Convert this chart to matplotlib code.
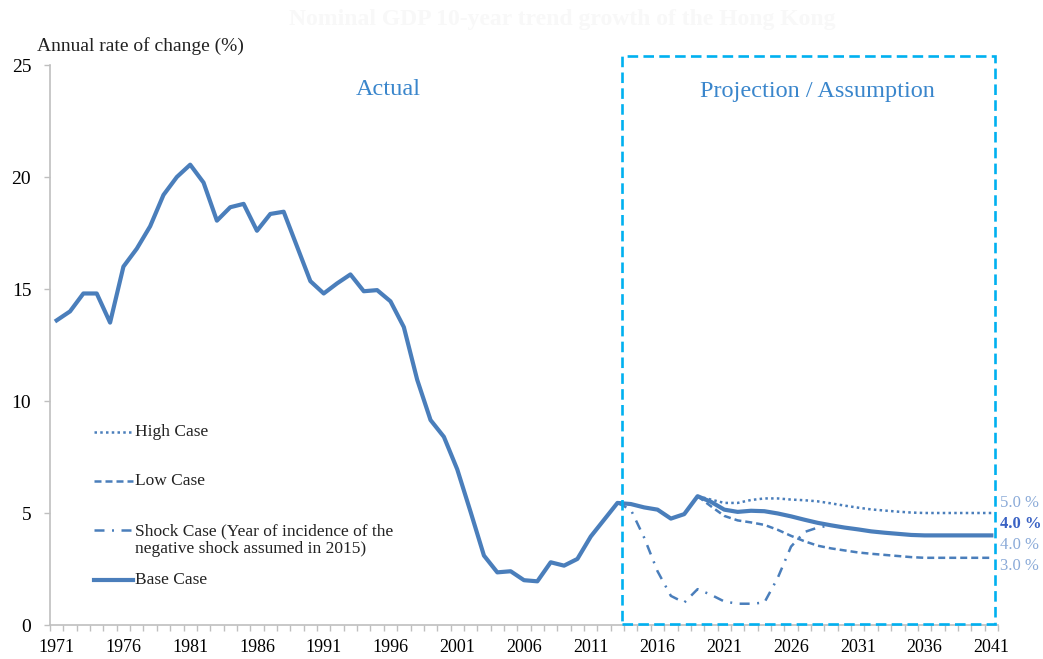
import matplotlib
matplotlib.use("Agg")
import matplotlib.pyplot as plt
from matplotlib.lines import Line2D
from matplotlib.patches import Rectangle
import numpy as np

plt.rcParams['font.family'] = ['Liberation Serif', 'DejaVu Serif']

# ---------------- data ----------------
years = list(range(1971, 2042))

base_case = [13.6, 14.0, 14.8, 14.8, 13.5, 16.0, 16.8, 17.8, 19.2, 20.0,
             20.55, 19.75, 18.05, 18.65, 18.8, 17.6, 18.35, 18.45, 16.9, 15.35,
             14.8, 15.25, 15.65, 14.9, 14.95, 14.45, 13.3, 10.95, 9.15, 8.4,
             6.95, 5.05, 3.1, 2.35, 2.4, 2.0, 1.95, 2.8, 2.65, 2.95,
             3.95, 4.7, 5.45, 5.4, 5.25, 5.15, 4.75, 4.95, 5.75, 5.5,
             5.15, 5.05, 5.1, 5.08, 4.98, 4.85, 4.7, 4.56, 4.45, 4.35,
             4.27, 4.18, 4.12, 4.07, 4.02, 4.0, 4.0, 4.0, 4.0, 4.0, 4.0]

proj_years = list(range(2019, 2042))
high_case = [5.75, 5.6, 5.45, 5.45, 5.58, 5.65, 5.65, 5.6, 5.57, 5.52,
             5.43, 5.33, 5.24, 5.16, 5.11, 5.06, 5.02, 5.0, 5.0, 5.0, 5.0, 5.0, 5.0]
low_case = [5.75, 5.3, 4.87, 4.67, 4.58, 4.47, 4.25, 3.98, 3.74, 3.54,
            3.42, 3.33, 3.24, 3.18, 3.13, 3.08, 3.03, 3.0, 3.0, 3.0, 3.0, 3.0, 3.0]

shock_years = list(range(2013, 2030))
shock_case = [5.45, 5.15, 3.9, 2.4, 1.3, 1.0, 1.6, 1.35, 1.05, 0.95,
              0.95, 1.0, 2.1, 3.5, 4.15, 4.35, 4.45]

xtick_labels = [1971, 1976, 1981, 1986, 1991, 1996, 2001, 2006, 2011,
                2016, 2021, 2026, 2031, 2036, 2041]
yticks = [0, 5, 10, 15, 20, 25]

end_labels = ["5.0 %", "4.0 %", "4.0 %", "3.0 %"]

title_text = "Nominal GDP 10-year trend growth of the Hong Kong"
ylabel_text = "Annual rate of change (%)"
legend_labels = ["High Case", "Low Case",
                 "Shock Case (Year of incidence of the\nnegative shock assumed in 2015)",
                 "Base Case"]

# ---------------- styles ----------------
W, H = 1043, 659
LINE = '#4A7EBB'
CYAN = '#00B0F0'
GRAY = '#BFBFBF'

fig = plt.figure(figsize=(W / 100, H / 100), dpi=100)
ax = fig.add_axes([50 / W, 34 / H, 948 / W, 560 / H])

def fx(px):
    return px / W

def fy(py):
    return 1 - py / H

hi_style = (0, (1, 1.3))
lo_style = (0, (2.8, 1.6))
sh_style = (0, (4, 3, 0.8, 3))

ax.plot(shock_years, shock_case, color=LINE, lw=1.8, linestyle=sh_style, zorder=2)
ax.plot(proj_years, high_case, color=LINE, lw=1.8, linestyle=hi_style, zorder=2)
ax.plot(proj_years, low_case, color=LINE, lw=1.8, linestyle=lo_style, zorder=2)
ax.plot(years, base_case, color=LINE, lw=3.0, solid_joinstyle='round', zorder=3)

ax.set_xlim(1970.5, 2041.5)
ax.set_ylim(0, 25)

for s in ['top', 'right']:
    ax.spines[s].set_visible(False)
for s in ['left', 'bottom']:
    ax.spines[s].set_color(GRAY)
    ax.spines[s].set_linewidth(1.2)

ax.set_yticks(yticks)
ax.set_yticklabels([str(v) for v in yticks])
ax.tick_params(axis='y', direction='out', length=4.5, width=1, color=GRAY,
               labelsize=14, pad=9)
ax.set_xticks(xtick_labels)
ax.set_xticklabels([str(v) for v in xtick_labels])
ax.tick_params(axis='x', which='major', length=0, labelsize=13, pad=10)
ax.set_xticks(np.arange(1970.5, 2042, 1.0), minor=True)
ax.tick_params(axis='x', which='minor', direction='out', length=4, width=1, color=GRAY)

# projection box
rect = Rectangle((2013.35, 0.05), 2041.3 - 2013.35, 25.4 - 0.05, fill=False,
                 edgecolor=CYAN, lw=1.9, linestyle=(0, (4, 2)), clip_on=False, zorder=4)
ax.add_patch(rect)

# section labels
ax.text(1995.8, 23.9, "Actual", color='#3A86CC', fontsize=17.5, ha='center', va='center')
ax.text(2028.0, 23.8, "Projection / Assumption", color='#3A86CC', fontsize=17.5,
        ha='center', va='center')

# end labels
end_colors = ['#8AAAD8', '#3A62C4', '#8AAAD8', '#8AAAD8']
end_weights = ['normal', 'bold', 'normal', 'normal']
for lab, py, c, wgt in zip(end_labels, [503, 524, 545, 566], end_colors, end_weights):
    fig.text(fx(1000), fy(py), lab, color=c, fontsize=12, fontweight=wgt,
             ha='left', va='center')

# y-axis title and (near-invisible) chart title
fig.text(fx(37), fy(46), ylabel_text, fontsize=14, ha='left', va='center', color='#222222')
fig.text(fx(562), fy(19), title_text, fontsize=17, fontweight='bold', ha='center',
         va='center', color='#F8F8F8')

# manual legend
legend_rows = [(432, hi_style, 1.8, 432), (481, lo_style, 1.8, 481),
               (530, sh_style, 1.8, 540), (580, '-', 3.0, 580)]
for (py, ls, lw, ty), lab in zip(legend_rows, legend_labels):
    fig.add_artist(Line2D([fx(94), fx(133)], [fy(py), fy(py)], color=LINE, lw=lw,
                          linestyle=ls, transform=fig.transFigure))
    fig.text(fx(135), fy(ty), lab, fontsize=12.5, ha='left', va='center',
             color='#222222', linespacing=1.15, transform=fig.transFigure)

fig.savefig('out.png', dpi=100)
